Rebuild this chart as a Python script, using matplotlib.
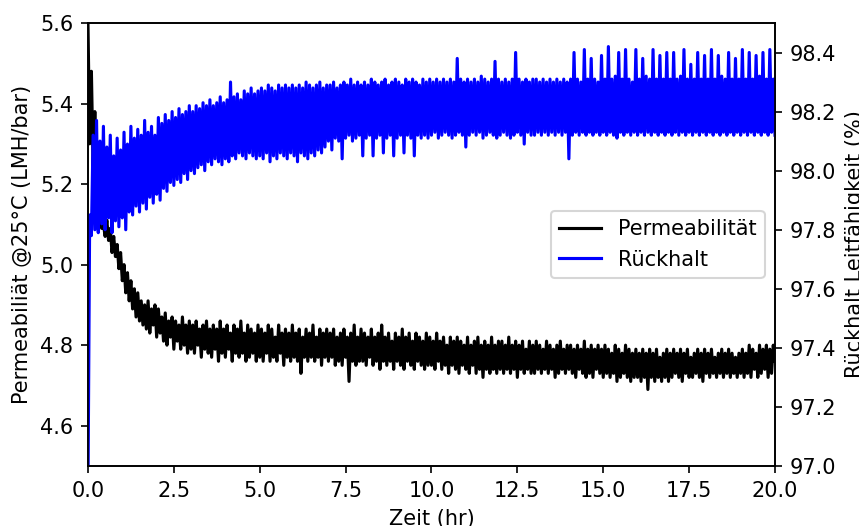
import numpy as np
import matplotlib
matplotlib.use('Agg')
import matplotlib.pyplot as plt

# Permeability @25°C (LMH/bar), one reading every 0.05 hr from 0 to 20 hr
# (one row per hour)
permeability = [
    5.60, 5.30, 5.48, 5.24, 5.38, 5.20, 5.14, 5.11, 5.09, 5.10,
    5.07, 5.11, 5.06, 5.09, 5.03, 5.07, 5.02, 5.05, 4.99, 5.03,
    4.96, 5.00, 4.93, 4.98, 4.91, 4.96, 4.89, 4.94, 4.87, 4.93,
    4.86, 4.91, 4.85, 4.90, 4.84, 4.91, 4.83, 4.89, 4.85, 4.90,
    4.82, 4.89, 4.83, 4.87, 4.81, 4.88, 4.80, 4.86, 4.82, 4.87,
    4.79, 4.86, 4.81, 4.85, 4.79, 4.87, 4.80, 4.85, 4.78, 4.86,
    4.79, 4.85, 4.78, 4.86, 4.80, 4.84, 4.77, 4.85, 4.79, 4.86,
    4.78, 4.84, 4.77, 4.85, 4.79, 4.84, 4.76, 4.86, 4.78, 4.84,
    4.77, 4.85, 4.79, 4.83, 4.76, 4.85, 4.78, 4.84, 4.77, 4.86,
    4.78, 4.83, 4.76, 4.85, 4.77, 4.84, 4.78, 4.83, 4.76, 4.85,
    4.77, 4.84, 4.76, 4.83, 4.78, 4.85, 4.76, 4.84, 4.77, 4.82,
    4.76, 4.85, 4.78, 4.83, 4.75, 4.84, 4.77, 4.83, 4.76, 4.85,
    4.77, 4.83, 4.76, 4.84, 4.73, 4.82, 4.77, 4.84, 4.76, 4.83,
    4.77, 4.85, 4.76, 4.82, 4.77, 4.84, 4.75, 4.83, 4.77, 4.84,
    4.76, 4.83, 4.77, 4.84, 4.75, 4.82, 4.76, 4.83, 4.75, 4.84,
    4.77, 4.82, 4.71, 4.83, 4.76, 4.85, 4.75, 4.82, 4.76, 4.84,
    4.76, 4.83, 4.75, 4.82, 4.77, 4.84, 4.75, 4.82, 4.76, 4.83,
    4.74, 4.85, 4.76, 4.82, 4.75, 4.83, 4.76, 4.81, 4.74, 4.83,
    4.76, 4.82, 4.75, 4.84, 4.74, 4.82, 4.76, 4.83, 4.75, 4.81,
    4.74, 4.83, 4.76, 4.82, 4.75, 4.81, 4.74, 4.83, 4.75, 4.82,
    4.75, 4.81, 4.74, 4.83, 4.76, 4.81, 4.74, 4.82, 4.75, 4.80,
    4.73, 4.82, 4.75, 4.81, 4.74, 4.82, 4.73, 4.81, 4.75, 4.80,
    4.74, 4.82, 4.73, 4.80, 4.75, 4.81, 4.73, 4.82, 4.74, 4.80,
    4.72, 4.81, 4.74, 4.80, 4.73, 4.82, 4.74, 4.80, 4.73, 4.81,
    4.74, 4.81, 4.73, 4.80, 4.74, 4.82, 4.73, 4.80, 4.74, 4.81,
    4.72, 4.80, 4.74, 4.81, 4.73, 4.79, 4.74, 4.81, 4.73, 4.80,
    4.73, 4.81, 4.74, 4.80, 4.73, 4.79, 4.74, 4.81, 4.73, 4.80,
    4.74, 4.79, 4.72, 4.80, 4.73, 4.81, 4.74, 4.79, 4.73, 4.80,
    4.74, 4.80, 4.73, 4.79, 4.72, 4.80, 4.74, 4.79, 4.73, 4.81,
    4.72, 4.79, 4.73, 4.80, 4.72, 4.79, 4.74, 4.80, 4.73, 4.79,
    4.72, 4.80, 4.73, 4.79, 4.72, 4.78, 4.73, 4.80, 4.71, 4.79,
    4.72, 4.78, 4.73, 4.80, 4.72, 4.79, 4.71, 4.78, 4.72, 4.79,
    4.72, 4.78, 4.71, 4.79, 4.72, 4.78, 4.69, 4.79, 4.72, 4.78,
    4.71, 4.79, 4.72, 4.77, 4.71, 4.78, 4.72, 4.79, 4.71, 4.78,
    4.72, 4.79, 4.73, 4.78, 4.72, 4.79, 4.71, 4.78, 4.73, 4.79,
    4.72, 4.77, 4.72, 4.78, 4.73, 4.79, 4.72, 4.78, 4.71, 4.79,
    4.73, 4.78, 4.72, 4.79, 4.73, 4.77, 4.72, 4.78, 4.73, 4.79,
    4.72, 4.78, 4.73, 4.79, 4.72, 4.78, 4.73, 4.77, 4.72, 4.78,
    4.73, 4.79, 4.72, 4.78, 4.73, 4.80, 4.72, 4.79, 4.74, 4.78,
    4.72, 4.80, 4.73, 4.79, 4.74, 4.80, 4.72, 4.79, 4.73, 4.80,
    4.76,
]

# Conductivity rejection (%), same timestamps
rejection = [
    96.90, 97.85, 97.78, 98.12, 97.80, 98.17, 97.79, 98.10, 97.82, 98.15,
    97.80, 98.08, 97.84, 98.12, 97.79, 98.05, 97.83, 98.11, 97.81, 98.07,
    97.84, 98.13, 97.80, 98.09, 97.86, 98.15, 97.85, 98.11, 97.88, 98.14,
    97.86, 98.12, 97.89, 98.17, 97.87, 98.13, 97.91, 98.15, 97.89, 98.12,
    97.92, 98.18, 97.90, 98.16, 97.94, 98.19, 97.93, 98.17, 97.96, 98.20,
    97.95, 98.18, 97.97, 98.21, 97.96, 98.19, 97.99, 98.20, 97.97, 98.22,
    98.00, 98.20, 97.99, 98.22, 98.01, 98.21, 98.02, 98.23, 98.00, 98.22,
    98.03, 98.24, 98.02, 98.22, 98.04, 98.23, 98.03, 98.25, 98.02, 98.23,
    98.04, 98.24, 98.03, 98.30, 98.05, 98.25, 98.04, 98.26, 98.06, 98.24,
    98.05, 98.27, 98.04, 98.26, 98.06, 98.28, 98.05, 98.26, 98.04, 98.27,
    98.05, 98.28, 98.04, 98.27, 98.06, 98.29, 98.03, 98.28, 98.05, 98.27,
    98.04, 98.29, 98.06, 98.28, 98.05, 98.29, 98.04, 98.28, 98.06, 98.29,
    98.05, 98.28, 98.03, 98.29, 98.06, 98.28, 98.05, 98.30, 98.04, 98.29,
    98.06, 98.28, 98.05, 98.29, 98.07, 98.30, 98.06, 98.28, 98.08, 98.29,
    98.10, 98.29, 98.07, 98.30, 98.11, 98.28, 98.10, 98.29, 98.04, 98.30,
    98.11, 98.29, 98.12, 98.31, 98.10, 98.29, 98.11, 98.30, 98.12, 98.29,
    98.05, 98.30, 98.11, 98.29, 98.12, 98.31, 98.05, 98.30, 98.11, 98.29,
    98.12, 98.30, 98.06, 98.31, 98.11, 98.29, 98.12, 98.30, 98.05, 98.31,
    98.11, 98.30, 98.12, 98.29, 98.06, 98.31, 98.12, 98.30, 98.11, 98.31,
    98.05, 98.30, 98.12, 98.29, 98.11, 98.31, 98.12, 98.30, 98.11, 98.31,
    98.12, 98.30, 98.13, 98.31, 98.11, 98.30, 98.12, 98.31, 98.13, 98.30,
    98.12, 98.31, 98.11, 98.30, 98.12, 98.38, 98.13, 98.31, 98.12, 98.30,
    98.08, 98.31, 98.12, 98.30, 98.13, 98.31, 98.12, 98.30, 98.13, 98.32,
    98.11, 98.31, 98.12, 98.30, 98.13, 98.31, 98.12, 98.37, 98.11, 98.31,
    98.12, 98.30, 98.13, 98.31, 98.12, 98.30, 98.11, 98.31, 98.12, 98.40,
    98.13, 98.31, 98.12, 98.30, 98.09, 98.31, 98.13, 98.30, 98.12, 98.31,
    98.12, 98.31, 98.13, 98.30, 98.12, 98.31, 98.13, 98.30, 98.12, 98.31,
    98.13, 98.30, 98.12, 98.31, 98.13, 98.30, 98.12, 98.31, 98.13, 98.30,
    98.04, 98.31, 98.12, 98.40, 98.13, 98.31, 98.12, 98.30, 98.13, 98.41,
    98.12, 98.31, 98.13, 98.38, 98.12, 98.31, 98.13, 98.30, 98.12, 98.39,
    98.13, 98.31, 98.12, 98.42, 98.13, 98.31, 98.12, 98.32, 98.11, 98.40,
    98.13, 98.31, 98.12, 98.41, 98.13, 98.31, 98.12, 98.30, 98.13, 98.41,
    98.12, 98.31, 98.13, 98.38, 98.12, 98.32, 98.13, 98.31, 98.12, 98.41,
    98.13, 98.31, 98.12, 98.39, 98.13, 98.31, 98.12, 98.40, 98.13, 98.31,
    98.12, 98.40, 98.13, 98.31, 98.12, 98.32, 98.13, 98.41, 98.12, 98.31,
    98.13, 98.36, 98.12, 98.31, 98.13, 98.40, 98.12, 98.31, 98.13, 98.39,
    98.12, 98.31, 98.13, 98.41, 98.12, 98.31, 98.13, 98.39, 98.12, 98.32,
    98.13, 98.31, 98.12, 98.40, 98.13, 98.31, 98.12, 98.38, 98.13, 98.31,
    98.12, 98.41, 98.13, 98.31, 98.12, 98.40, 98.13, 98.31, 98.12, 98.39,
    98.13, 98.32, 98.12, 98.40, 98.13, 98.31, 98.12, 98.41, 98.13, 98.31,
    98.12,
]

hours = np.linspace(0, 20, len(permeability))

fig, ax1 = plt.subplots(figsize=(859 / 150, 526 / 150), dpi=150)
fig.subplots_adjust(left=0.1024, right=0.9022, bottom=0.1141, top=0.9563)

line1, = ax1.plot(hours, permeability, color='black', label='Permeabilität')
ax1.set_xlim(0, 20)
ax1.set_ylim(4.5, 5.6)
ax1.set_xlabel('Zeit (hr)')
ax1.set_ylabel('Permeabiliät @25°C (LMH/bar)')

ax2 = ax1.twinx()
line2, = ax2.plot(np.linspace(0, 20, len(rejection)), rejection,
                  color='blue', label='Rückhalt')
ax2.set_ylim(97.0, 98.5)
ax2.set_ylabel('Rückhalt Leitfähigkeit (%)')

ax2.legend(handles=[line1, line2], loc='center right')

fig.savefig('out.png', dpi=150)
